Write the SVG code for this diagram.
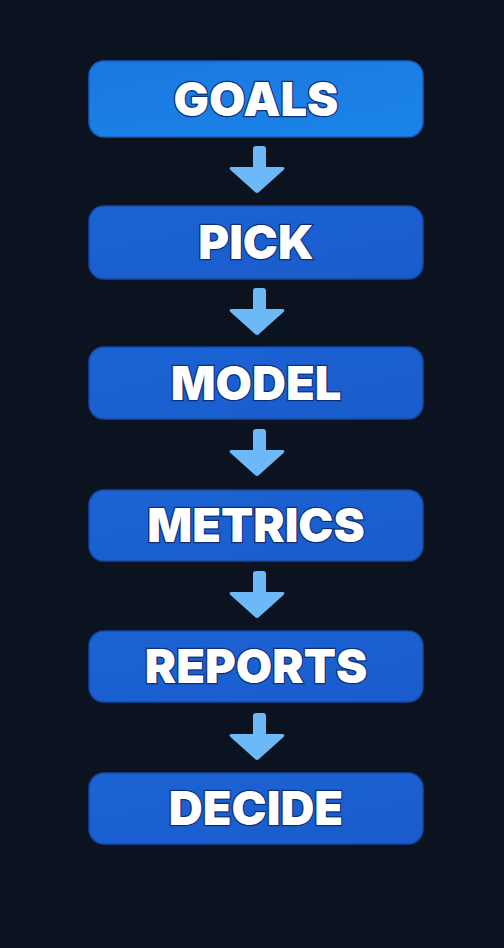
<svg xmlns="http://www.w3.org/2000/svg" width="504" height="948" viewBox="0 0 504 948">
<style>
.box{fill:url(#g2);stroke:#1747a6;stroke-width:1.5}
.box1{fill:url(#g1);stroke:#1a5cbf;stroke-width:1.5}
.lbl{font-family:Inter,"DejaVu Sans",sans-serif;font-weight:900;font-size:47px;fill:#ffffff;stroke:#0d2f7a;stroke-width:2.5;paint-order:stroke;text-anchor:middle}
.arr{fill:#6db9f7}
</style>
<defs>
<linearGradient id="g1" x1="0" y1="0" x2="1" y2="1"><stop offset="0" stop-color="#1b78e0"/><stop offset="1" stop-color="#1a84e8"/></linearGradient>
<linearGradient id="g2" x1="0" y1="0" x2="1" y2="1"><stop offset="0" stop-color="#1b63d4"/><stop offset="1" stop-color="#1a5ccc"/></linearGradient>
<path id="a" d="M253,3 Q253,0 256,0 L263,0 Q266,0 266,3 L266,21 L282,21 Q286,21 283.5,24 L259,46 Q257,48 255,46 L230.5,24 Q228,21 232,21 L253,21 Z"/>
</defs>
<rect width="504" height="948" fill="#0b1220"/>
<g id="connectors" class="arr">
<use href="#a" x="0" y="146"/>
<use href="#a" x="0" y="288"/>
<use href="#a" x="0" y="429"/>
<use href="#a" x="0" y="571"/>
<use href="#a" x="0" y="713"/>
</g>
<g id="goals"><rect class="box1" x="89" y="61" width="334" height="76" rx="15"/><text class="lbl" x="256" y="116">GOALS</text></g>
<g id="pick"><rect class="box" x="89" y="206" width="334" height="73" rx="15"/><text class="lbl" x="256" y="259">PICK</text></g>
<g id="model"><rect class="box" x="89" y="347" width="334" height="72" rx="15"/><text class="lbl" x="256" y="400">MODEL</text></g>
<g id="metrics"><rect class="box" x="89" y="490" width="334" height="71" rx="15"/><text class="lbl" x="256" y="542">METRICS</text></g>
<g id="reports"><rect class="box" x="89" y="631" width="334" height="71" rx="15"/><text class="lbl" x="256" y="683">REPORTS</text></g>
<g id="decide"><rect class="box" x="89" y="773" width="334" height="71" rx="15"/><text class="lbl" x="256" y="825">DECIDE</text></g>
</svg>
